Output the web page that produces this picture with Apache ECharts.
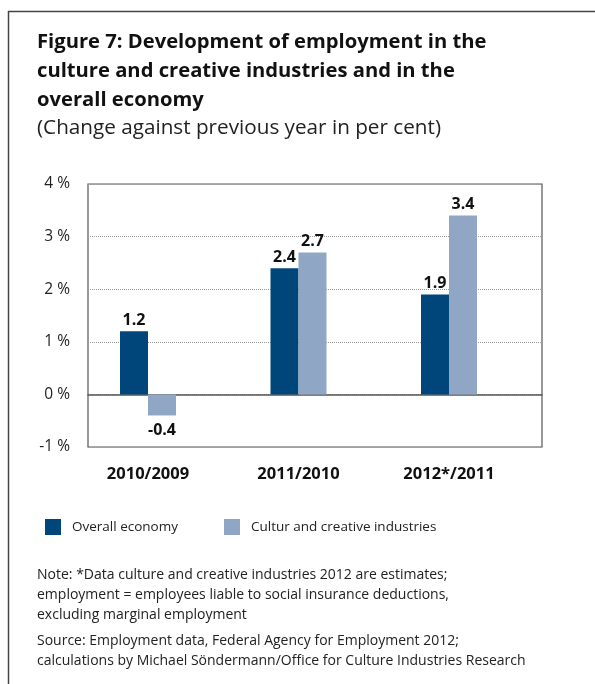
<!DOCTYPE html>
<html>
<head>
<meta charset="utf-8">
<script src="https://cdn.jsdelivr.net/npm/echarts@6/dist/echarts.min.js"></script>
<style>
  html, body { margin: 0; padding: 0; background: #fff; }
  #chart { width: 595px; height: 684px; }
</style>
</head>
<body>
<div id="chart"></div>
<script>
// Employment change against previous year, in per cent
const categories = ['2010/2009', '2011/2010', '2012*/2011'];
const overallEconomy = [1.2, 2.4, 1.9];
const cultureCreative = [-0.4, 2.7, 3.4];
const seriesNames = ['Overall economy', 'Cultur and creative industries'];

const FONT = '"Open Sans", "Noto Sans", sans-serif';
const DARK = '#00467b';
const LIGHT = '#8fa6c5';

// values with their label placed outside the bar end (below for negatives)
function withLabels(values) {
  return values.map(v => ({
    value: v,
    label: { position: v < 0 ? 'bottom' : 'top', distance: v < 0 ? 7 : 3 }
  }));
}

const barLabel = {
  show: true,
  fontFamily: FONT,
  fontWeight: 'bold',
  fontSize: 16,
  color: '#111',
  formatter: p => p.value.toFixed(1)
};

const chart = echarts.init(document.getElementById('chart'), null, { renderer: 'canvas' });

chart.setOption({
  animation: false,
  backgroundColor: '#fff',
  textStyle: { fontFamily: FONT },
  graphic: [
    // outer frame: top and left rules
    { type: 'line', shape: { x1: 8, y1: 11.5, x2: 595, y2: 11.5 }, style: { stroke: '#444', lineWidth: 1.5 } },
    { type: 'line', shape: { x1: 8.5, y1: 11, x2: 8.5, y2: 684 }, style: { stroke: '#444', lineWidth: 1.5 } }
  ],
  title: [
    {
      text: 'Figure 7: Development of employment in the\nculture and creative industries and in the\noverall economy',
      left: 37, top: 28, padding: 0,
      textStyle: { fontFamily: FONT, fontWeight: 'bold', fontSize: 20.2, lineHeight: 29, color: '#111' }
    },
    {
      text: '(Change against previous year in per cent)',
      left: 37, top: 114, padding: 0,
      textStyle: { fontFamily: FONT, fontWeight: 'normal', fontSize: 20.7, lineHeight: 29, color: '#222' }
    },
    {
      text: 'Note: *Data culture and creative industries 2012 are estimates;\nemployment = employees liable to social insurance deductions,\nexcluding marginal employment',
      left: 37, top: 565, padding: 0,
      textStyle: { fontFamily: FONT, fontWeight: 'normal', fontSize: 14, lineHeight: 20, color: '#222' }
    },
    {
      text: 'Source: Employment data, Federal Agency for Employment 2012;\ncalculations by Michael Söndermann/Office for Culture Industries Research',
      left: 37, top: 631, padding: 0,
      textStyle: { fontFamily: FONT, fontWeight: 'normal', fontSize: 14, lineHeight: 20, color: '#222' }
    }
  ],
  legend: {
    data: seriesNames,
    left: 40, top: 514,
    icon: 'rect',
    itemWidth: 16, itemHeight: 16,
    itemGap: 46,
    textStyle: { fontFamily: FONT, fontSize: 13.5, color: '#222', padding: [0, 0, 0, 6] }
  },
  grid: [
    // framed plot area with the value scale
    { left: 88, top: 184, width: 454, height: 263, show: true, borderColor: '#555', borderWidth: 1.2, backgroundColor: 'transparent' },
    // band layout for the bar groups
    { left: 72.75, top: 184, width: 451.5, height: 263 }
  ],
  xAxis: [
    {
      gridIndex: 0, type: 'category', data: categories,
      axisLine: { show: true, onZero: true, lineStyle: { color: '#555', width: 1.5 } },
      axisTick: { show: false }, axisLabel: { show: false }, splitLine: { show: false }
    },
    {
      gridIndex: 1, type: 'category', data: categories,
      axisLine: { show: false, onZero: false }, axisTick: { show: false },
      axisLabel: { fontFamily: FONT, fontWeight: 'bold', fontSize: 16.5, color: '#111', margin: 19 }
    }
  ],
  yAxis: [
    {
      gridIndex: 0, type: 'value', min: -1, max: 4, interval: 1,
      axisLine: { show: false }, axisTick: { show: false },
      axisLabel: { fontFamily: FONT, fontSize: 15.5, color: '#222', margin: 18, formatter: '{value} %' },
      splitLine: { show: true, lineStyle: { color: '#999', type: [1, 1], width: 1 } }
    },
    {
      gridIndex: 1, type: 'value', min: -1, max: 4, interval: 1,
      show: false, splitLine: { show: false }
    }
  ],
  series: [
    {
      name: seriesNames[0], type: 'bar', xAxisIndex: 1, yAxisIndex: 1,
      data: withLabels(overallEconomy),
      barWidth: 28, barGap: '0%',
      itemStyle: { color: DARK },
      label: barLabel
    },
    {
      name: seriesNames[1], type: 'bar', xAxisIndex: 1, yAxisIndex: 1,
      data: withLabels(cultureCreative),
      barWidth: 28, barGap: '0%',
      itemStyle: { color: LIGHT },
      label: barLabel
    }
  ]
});
</script>
</body>
</html>
